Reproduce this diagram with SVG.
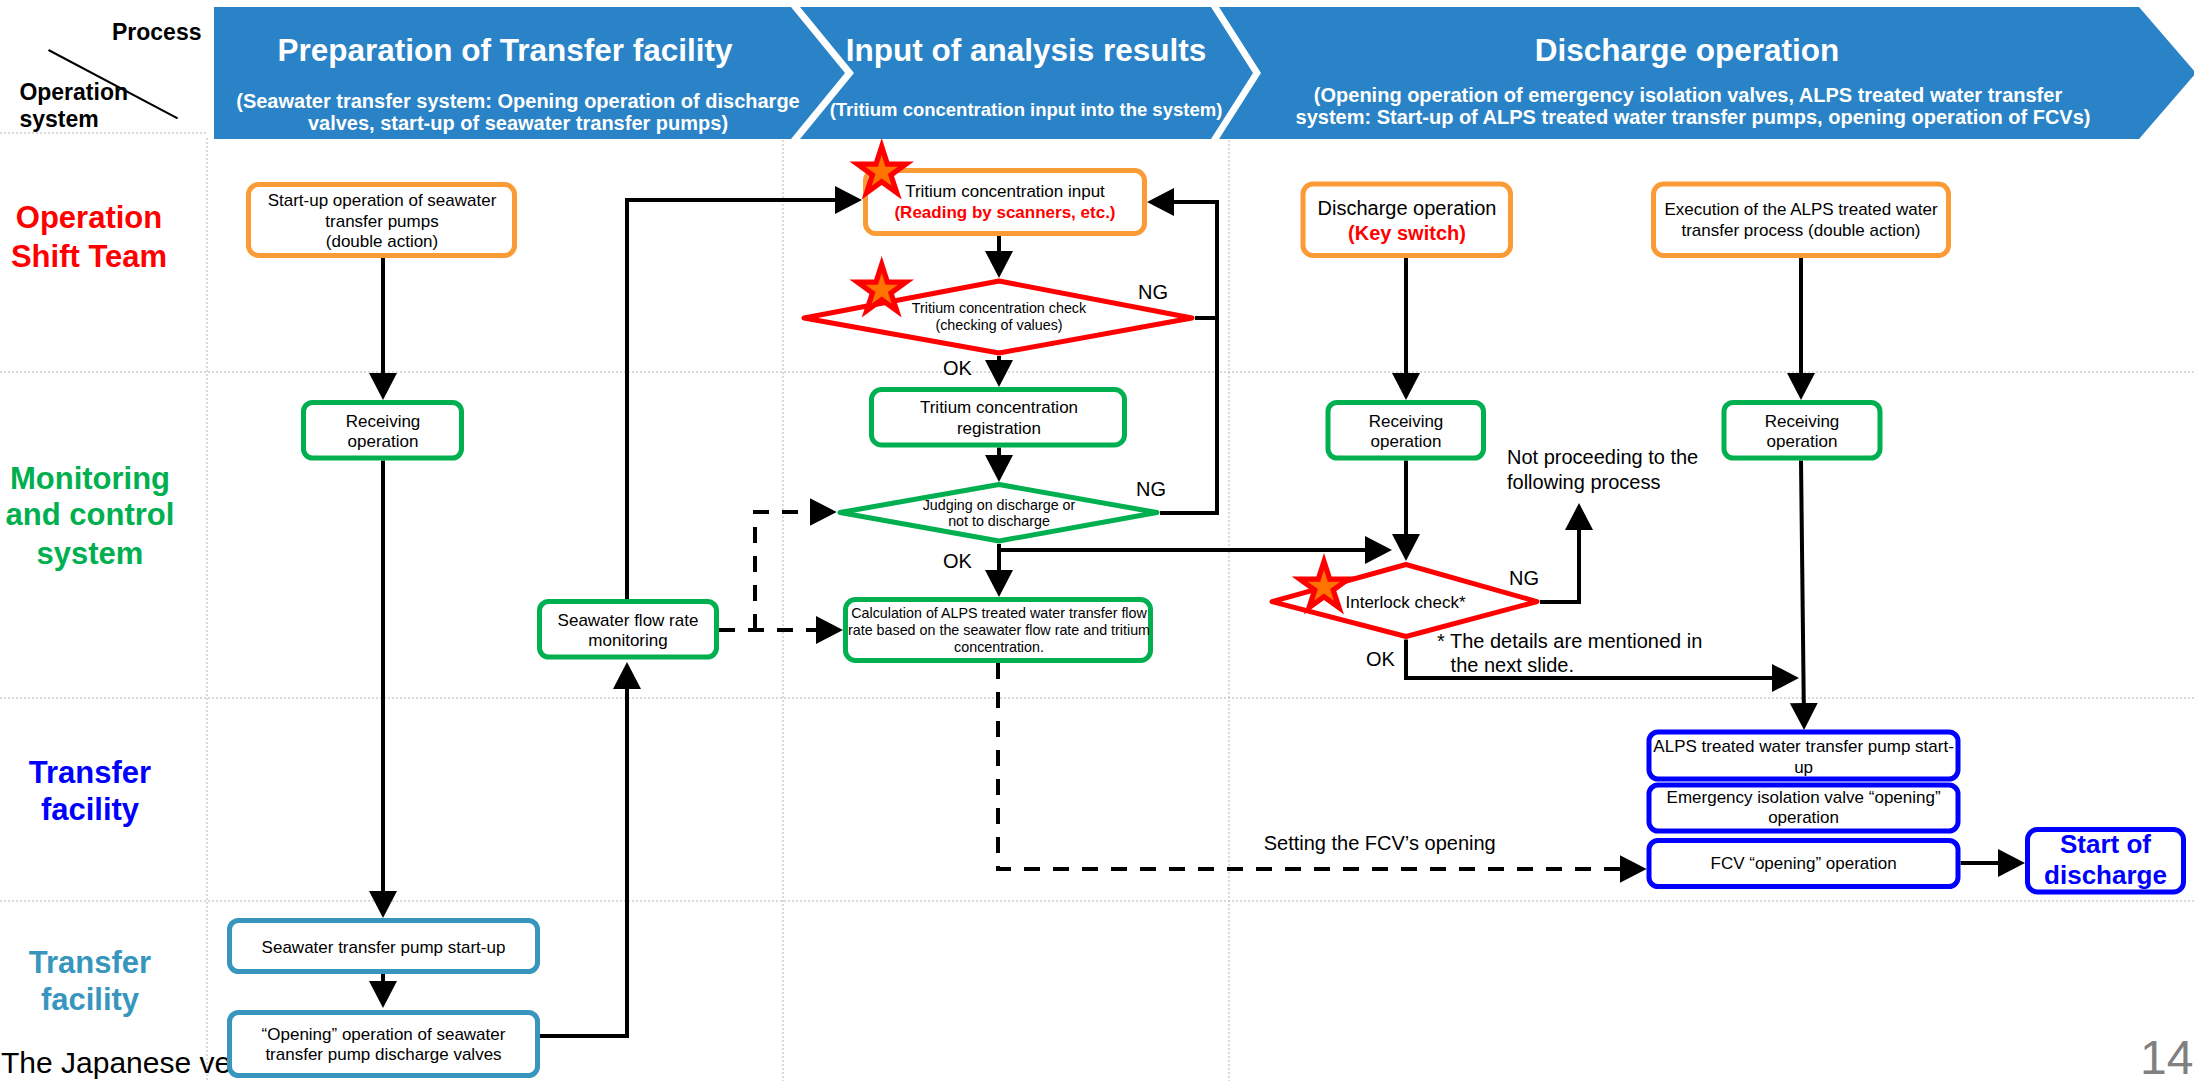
<svg xmlns="http://www.w3.org/2000/svg" xmlns:xlink="http://www.w3.org/1999/xlink" width="2194" height="1081" viewBox="0 0 2194 1081">
  <style>
    text { font-family: "Liberation Sans", Arial, sans-serif; }
    .hdr { fill: #2A83C6; }
    .title { font-size: 31.5px; font-weight: bold; fill: #fff; text-anchor: middle; }
    .sub { font-size: 20px; font-weight: bold; fill: #fff; text-anchor: middle; }
    .corner { font-size: 23px; font-weight: bold; fill: #000; }
    .lane { font-size: 31px; font-weight: bold; text-anchor: middle; }
    .grid { stroke: #B4B4B4; stroke-width: 1; stroke-dasharray: 2 2; fill: none; }
    .box { fill: #fff; stroke-width: 5; }
    .orange { stroke: #FA9B36; }
    .green { stroke: #00B050; }
    .blue { stroke: #0000FF; }
    .teal { stroke: #3795BE; }
    .dia { fill: #fff; stroke-width: 5; stroke-linejoin: round; }
    .red { stroke: #FF0000; }
    .t17 { font-size: 17px; fill: #000; text-anchor: middle; }
    .t14 { font-size: 14.3px; fill: #000; text-anchor: middle; }
    .t20 { font-size: 20px; fill: #000; }
    .em { font-weight: bold; fill: #FF0000; }
    .conn { fill: none; stroke: #000; stroke-width: 4; }
    .dash { stroke-dasharray: 16 13; }
    .star-out { fill: #FF0000; }
    .star-in { fill: #FF7300; }
  </style>
  <defs>
    <marker id="arrow" markerUnits="userSpaceOnUse" viewBox="0 0 27 28" markerWidth="27" markerHeight="28" refX="21" refY="14" orient="auto">
      <path d="M0,0 L27,14 L0,28 Z" fill="#000"/>
    </marker>
    <path id="star" d="M0,-34 L7.6,-10.5 L32.3,-10.5 L12.3,4 L20,27.5 L0,13 L-20,27.5 L-12.3,4 L-32.3,-10.5 L-7.6,-10.5 Z"/>
  </defs>

  <rect width="2194" height="1081" fill="#fff"/>

  <!-- lane and column grid -->
  <g id="grid">
    <line class="grid" x1="0" y1="133" x2="207" y2="133"/>
    <line class="grid" x1="0" y1="372" x2="2194" y2="372"/>
    <line class="grid" x1="0" y1="698" x2="2194" y2="698"/>
    <line class="grid" x1="0" y1="901" x2="2194" y2="901"/>
    <line class="grid" x1="207" y1="138" x2="207" y2="1081"/>
    <line class="grid" x1="783" y1="140" x2="783" y2="1081"/>
    <line class="grid" x1="1229" y1="140" x2="1229" y2="1081"/>
  </g>

  <!-- header corner -->
  <g id="corner">
    <text class="corner" x="201.5" y="40" text-anchor="end">Process</text>
    <line x1="48.5" y1="50" x2="177.6" y2="118.3" stroke="#000" stroke-width="2"/>
    <text class="corner" x="19.4" y="100">Operation</text>
    <text class="corner" x="19.4" y="127">system</text>
  </g>

  <!-- process chevrons -->
  <g id="phase-preparation">
    <path class="hdr" d="M214,7 L791,7 L845,73 L791,139 L214,139 Z"/>
    <text class="title" x="505" y="61">Preparation of Transfer facility</text>
    <text class="sub" x="518" y="108">(Seawater transfer system: Opening operation of discharge</text>
    <text class="sub" x="518" y="130">valves, start-up of seawater transfer pumps)</text>
  </g>
  <g id="phase-input">
    <path class="hdr" d="M800,7 L1211,7 L1253,73 L1211,139 L800,139 L854,73 Z"/>
    <text class="title" x="1026" y="61">Input of analysis results</text>
    <text class="sub" x="1026" y="116" style="font-size:18.5px">(Tritium concentration input into the system)</text>
  </g>
  <g id="phase-discharge">
    <path class="hdr" d="M1219,7 L2139,7 L2196,73 L2139,139 L1219,139 L1261,73 Z"/>
    <text class="title" x="1687" y="61">Discharge operation</text>
    <text class="sub" x="1688" y="102">(Opening operation of emergency isolation valves, ALPS treated water transfer</text>
    <text class="sub" x="1693" y="124">system: Start-up of ALPS treated water transfer pumps, opening operation of FCVs)</text>
  </g>

  <!-- lane titles -->
  <g id="lanes">
    <text class="lane" x="89" y="228" fill="#FF0000">Operation</text>
    <text class="lane" x="89" y="266.5" fill="#FF0000">Shift Team</text>
    <text class="lane" x="90" y="488.6" fill="#00B050">Monitoring</text>
    <text class="lane" x="90" y="525.4" fill="#00B050">and control</text>
    <text class="lane" x="90" y="564" fill="#00B050">system</text>
    <text class="lane" x="90" y="783" fill="#0000FF">Transfer</text>
    <text class="lane" x="90" y="820" fill="#0000FF">facility</text>
    <text class="lane" x="90" y="973" fill="#3795BE">Transfer</text>
    <text class="lane" x="90" y="1010" fill="#3795BE">facility</text>
  </g>

  <!-- footer text partly hidden behind the valve box -->
  <g id="footer">
    <text x="1" y="1073" font-size="30" fill="#000">The Japanese ve</text>
    <text x="2140" y="1074" font-size="48" fill="#808080">14</text>
  </g>

  <!-- connectors -->
  <g id="connectors">
    <path class="conn" marker-end="url(#arrow)" d="M383,258 V394"/>
    <path class="conn" marker-end="url(#arrow)" d="M383,460.5 V912"/>
    <path class="conn" marker-end="url(#arrow)" d="M383,974 V1002"/>
    <path class="conn" marker-end="url(#arrow)" d="M540,1036 H627 V668"/>
    <path class="conn" marker-end="url(#arrow)" d="M627,599 V200 H856"/>
    <path class="conn" marker-end="url(#arrow)" d="M999,236 V272"/>
    <path class="conn" marker-end="url(#arrow)" d="M999,356 V381"/>
    <path class="conn" marker-end="url(#arrow)" d="M999,447.5 V476"/>
    <path class="conn" marker-end="url(#arrow)" d="M999,544 V591"/>
    <path class="conn" marker-end="url(#arrow)" d="M999,550 H1386"/>
    <path class="conn" marker-end="url(#arrow)" d="M1160,513 H1217 V202 H1153"/>
    <path class="conn" d="M1195,318 H1217"/>
    <path class="conn" marker-end="url(#arrow)" d="M1406,258 V394"/>
    <path class="conn" marker-end="url(#arrow)" d="M1801,258 V394"/>
    <path class="conn" marker-end="url(#arrow)" d="M1406,460.5 V555"/>
    <path class="conn" marker-end="url(#arrow)" d="M1540,602 H1579 V509"/>
    <path class="conn" marker-end="url(#arrow)" d="M1406,639.5 V678 H1793"/>
    <path class="conn" marker-end="url(#arrow)" d="M1801,460.5 L1804,724"/>
    <path class="conn" marker-end="url(#arrow)" d="M1960.6,863 H2019"/>
    <path class="conn dash" marker-end="url(#arrow)" d="M719,630 H837"/>
    <path class="conn dash" marker-end="url(#arrow)" d="M755,630 V512 H830.7"/>
    <path class="conn dash" marker-end="url(#arrow)" d="M998,663 V869 H1640.6"/>
  </g>

  <!-- connector labels -->
  <g id="labels">
    <text class="t20" x="1138" y="299">NG</text>
    <text class="t20" x="943" y="374.6">OK</text>
    <text class="t20" x="1136" y="495.6">NG</text>
    <text class="t20" x="943" y="568">OK</text>
    <text class="t20" x="1509" y="585">NG</text>
    <text class="t20" x="1366" y="665.8">OK</text>
    <text class="t20" x="1507" y="464">Not proceeding to the</text>
    <text class="t20" x="1507" y="488.6">following process</text>
    <text class="t20" x="1437" y="648">* The details are mentioned in</text>
    <text class="t20" x="1450.6" y="672">the next slide.</text>
    <text class="t20" x="1263.7" y="850">Setting the FCV’s opening</text>
  </g>

  <!-- Preparation of transfer facility -->
  <g id="node-startup-order">
    <rect class="box orange" x="248.5" y="184.5" width="266" height="71" rx="10"/>
    <text class="t17" x="382" y="206">Start-up operation of seawater</text>
    <text class="t17" x="382" y="226.5">transfer pumps</text>
    <text class="t17" x="382" y="247">(double action)</text>
  </g>
  <g id="node-receiving-1">
    <rect class="box green" x="303.5" y="402.5" width="158" height="55.5" rx="9"/>
    <text class="t17" x="383" y="427">Receiving</text>
    <text class="t17" x="383" y="447">operation</text>
  </g>
  <g id="node-seawater-monitoring">
    <rect class="box green" x="539.5" y="601.5" width="177" height="55.5" rx="9"/>
    <text class="t17" x="628" y="625.5">Seawater flow rate</text>
    <text class="t17" x="628" y="646">monitoring</text>
  </g>
  <g id="node-seawater-pump">
    <rect class="box teal" x="229.5" y="920.5" width="308" height="51" rx="9"/>
    <text class="t17" x="383.5" y="952.7">Seawater transfer pump start-up</text>
  </g>
  <g id="node-discharge-valves">
    <rect class="box teal" x="229.5" y="1012.5" width="308" height="63" rx="9"/>
    <text class="t17" x="383.5" y="1040">“Opening” operation of seawater</text>
    <text class="t17" x="383.5" y="1060">transfer pump discharge valves</text>
  </g>

  <!-- Input of analysis results -->
  <g id="node-tritium-input">
    <rect class="box orange" x="865.5" y="170.5" width="279" height="63" rx="10"/>
    <text class="t17" x="1005" y="197.4">Tritium concentration input</text>
    <text class="t17 em" x="1005" y="218.4">(Reading by scanners, etc.)</text>
  </g>
  <g id="node-tritium-check">
    <polygon class="dia red" points="804,318 999,281 1192,318 999,353"/>
    <text class="t14" x="999" y="313">Tritium concentration check</text>
    <text class="t14" x="999" y="329.6">(checking of values)</text>
  </g>
  <g id="node-tritium-registration">
    <rect class="box green" x="871.5" y="389.5" width="253" height="55.5" rx="10"/>
    <text class="t17" x="999" y="413">Tritium concentration</text>
    <text class="t17" x="999" y="434">registration</text>
  </g>
  <g id="node-judging">
    <polygon class="dia green" points="840,512.5 999,484.5 1157,512.5 999,541"/>
    <text class="t14" x="999" y="509.6">Judging on discharge or</text>
    <text class="t14" x="999" y="526">not to discharge</text>
  </g>
  <g id="node-flow-calculation">
    <rect class="box green" x="845.5" y="599.5" width="305" height="61" rx="10"/>
    <text class="t14" x="999" y="618.4">Calculation of ALPS treated water transfer flow</text>
    <text class="t14" x="999" y="635.3">rate based on the seawater flow rate and tritium</text>
    <text class="t14" x="999" y="651.8">concentration.</text>
  </g>

  <!-- Discharge operation -->
  <g id="node-key-switch">
    <rect class="box orange" x="1303" y="184" width="207.5" height="71.5" rx="10"/>
    <text class="t17" x="1407" y="215" style="font-size:20px">Discharge operation</text>
    <text class="t17 em" x="1407" y="239.5" style="font-size:20px">(Key switch)</text>
  </g>
  <g id="node-alps-execution">
    <rect class="box orange" x="1653.5" y="184" width="295" height="71.5" rx="10"/>
    <text class="t17" x="1801" y="215">Execution of the ALPS treated water</text>
    <text class="t17" x="1801" y="236">transfer process (double action)</text>
  </g>
  <g id="node-receiving-2">
    <rect class="box green" x="1328" y="402.5" width="155.5" height="55.5" rx="9"/>
    <text class="t17" x="1406" y="427">Receiving</text>
    <text class="t17" x="1406" y="447">operation</text>
  </g>
  <g id="node-receiving-3">
    <rect class="box green" x="1724" y="402.5" width="156" height="55.5" rx="9"/>
    <text class="t17" x="1802" y="427">Receiving</text>
    <text class="t17" x="1802" y="447">operation</text>
  </g>
  <g id="node-interlock">
    <polygon class="dia red" points="1272,601.6 1406,564.5 1537,601.6 1406,636.5"/>
    <text class="t17" x="1405.5" y="608">Interlock check*</text>
  </g>
  <g id="node-alps-pump">
    <rect class="box blue" x="1649" y="732" width="309" height="47" rx="9"/>
    <text class="t17" x="1803.6" y="752.4">ALPS treated water transfer pump start-</text>
    <text class="t17" x="1803.6" y="772.6">up</text>
  </g>
  <g id="node-isolation-valve">
    <rect class="box blue" x="1649" y="785" width="309" height="46" rx="9"/>
    <text class="t17" x="1803.6" y="803">Emergency isolation valve “opening”</text>
    <text class="t17" x="1803.6" y="823">operation</text>
  </g>
  <g id="node-fcv">
    <rect class="box blue" x="1649" y="840.5" width="309" height="46" rx="9"/>
    <text class="t17" x="1803.6" y="868.5">FCV “opening” operation</text>
  </g>
  <g id="node-start-discharge">
    <rect class="box blue" x="2027.5" y="829.5" width="156" height="62.5" rx="10"/>
    <text x="2105.5" y="853.4" font-size="26" font-weight="bold" fill="#0000FF" text-anchor="middle">Start of</text>
    <text x="2105.5" y="884.4" font-size="26" font-weight="bold" fill="#0000FF" text-anchor="middle">discharge</text>
  </g>

  <!-- check-point stars -->
  <g id="stars">
    <use xlink:href="#star" class="star-out" transform="translate(881.7,172)"/>
    <use xlink:href="#star" class="star-in" transform="translate(881.7,172) scale(0.5)"/>
    <use xlink:href="#star" class="star-out" transform="translate(881.7,290)"/>
    <use xlink:href="#star" class="star-in" transform="translate(881.7,290) scale(0.5)"/>
    <use xlink:href="#star" class="star-out" transform="translate(1324,587)"/>
    <use xlink:href="#star" class="star-in" transform="translate(1324,587) scale(0.5)"/>
  </g>
</svg>
